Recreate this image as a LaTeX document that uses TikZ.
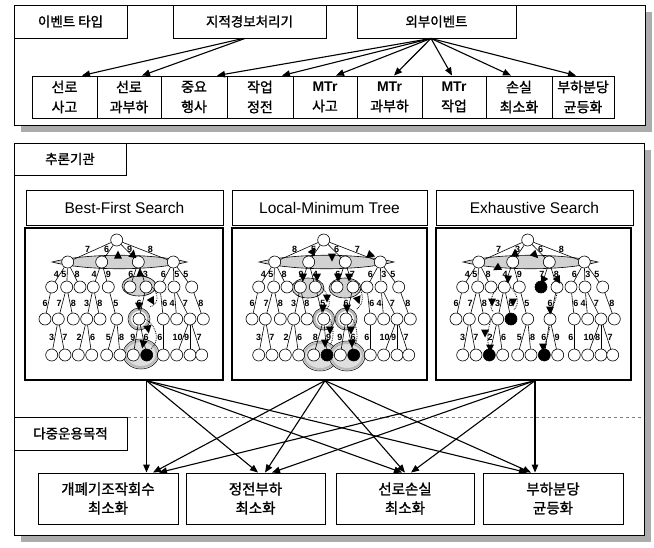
\documentclass[tikz,border=0pt]{standalone}
\usepackage{fontspec}
\setmainfont{Liberation Sans}
\newfontfamily\kr{Noto Sans CJK KR}[FakeBold=1.2]
\usetikzlibrary{arrows.meta}

\tikzset{
  box/.style={draw, line width=0.9pt, fill=white, inner sep=0pt, align=center},
  arr/.style={-{Triangle[length=8pt,width=6.5pt]}, line width=1.1pt},
  tn/.style={circle, draw, fill=white, minimum size=12pt, inner sep=0pt, line width=0.6pt},
  tedge/.style={line width=0.6pt},
  elab/.style={font=\bfseries\fontsize{9}{9}\selectfont, inner sep=0.5pt},
  srch/.style={densely dotted, line width=0.8pt},
  hl/.style={draw, line width=0.6pt, fill=gray!35},
  krhead/.style={font=\kr\fontsize{13.5}{16}\selectfont},
  krev/.style={font=\kr\fontsize{14}{20}\selectfont},
  krgoal/.style={font=\kr\fontsize{14.5}{19}\selectfont},
  ptitle/.style={font=\fontsize{15.5}{18}\selectfont},
}

\newcommand\cbox[6]{\node[box,#6,minimum width={(#4-#2)*1pt},minimum height={(#5-#3)*1pt}] (#1) at ({(#2+#4)/2},{(#3+#5)/2})}
\newcommand\tri[3]{\fill[shift={(#1,#2)},rotate=#3] (4.5,0) -- (-3.5,4) -- (-3.5,-4) -- cycle;}
\newcommand\lens[1]{\draw[hl] (#1+27,262) .. controls (#1+62,253) and (#1+127,253) .. (#1+162,262) .. controls (#1+127,271) and (#1+62,271) .. cycle;}
\newcommand\ring[2]{\draw[gray!55, line width=2.5pt] (#1,#2) circle [radius=9.3pt];\draw[line width=0.5pt] (#1,#2) circle [radius=11pt];}
\newcommand\lowell[2]{\draw[fill=gray!25, line width=0.5pt] (#1,#2) ellipse [x radius=18pt, y radius=15pt];\draw[gray!55, line width=2pt] (#1,#2) ellipse [x radius=16pt, y radius=13pt];}

\def\labB{{"7","6","9","8","4","5","8","4","9","6","3","6","5","5","6","7","8","3","8","5","6","6","4","7","8","3","7","2","6","5","8","9","6","6","10","9","7"}}
\def\labL{{"8","5","6","7","4","5","8","9","4","6","7","6","3","5","6","7","8","3","8","5","6","6","4","7","8","3","7","2","6","8","9","9","6","6","10","9","7"}}
\def\labE{{"7","3","6","8","4","5","8","4","9","7","8","6","3","5","6","7","8","3","8","5","6","6","4","7","8","3","7","2","6","5","8","6","9","6","10","8","7"}}

\newcommand\tree[3]{%
 \node[tn] (#1r) at (#2+91.7,240) {};
 \foreach \n/\x in {1/42.7,2/76.7,3/113.3,4/148.3} {\node[tn] (#1a\n) at (#2+\x,262) {};}
 \foreach \n/\x in {1/26.7,2/41.7,3/55,4/68.3,5/83.3,6/105,7/121,8/135,9/149,10/166.7} {\node[tn] (#1b\n) at (#2+\x,287) {};}
 \foreach \n/\x in {1/20,2/33.3,3/48.3,4/61.7,5/75,6/91.7,7/114,8/138.3,9/151.7,10/165,11/178.3} {\node[tn] (#1c\n) at (#2+\x,319) {};}
 \foreach \n/\x in {1/26.7,2/40,3/53.3,4/66.7,5/81.7,6/95,7/108.3,8/121.7,9/138.3,10/151.7,11/165,12/176.7} {\node[tn] (#1d\n) at (#2+\x,355) {};}
 \foreach \p/\c/\s/\q [count=\i from 0] in {r/a1/south/.62, r/a2/east/.4, r/a3/west/.4, r/a4/south/.62,
   a1/b1/east/.5, a1/b2/east/.5, a1/b3/west/.5, a2/b4/east/.5, a2/b5/west/.5, a3/b6/east/.5, a3/b7/west/.5, a4/b8/east/.5, a4/b9/west/.5, a4/b10/west/.5,
   b1/c1/east/.5, b2/c2/east/.5, b2/c3/west/.5, b4/c4/east/.5, b4/c5/west/.5, b5/c6/west/.5, b7/c7/east/.5, b8/c8/west/.5, b9/c9/east/.5, b9/c10/west/.5, b10/c11/west/.5,
   c2/d1/east/.5, c2/d2/west/.5, c4/d3/east/.5, c4/d4/west/.5, c6/d5/east/.5, c6/d6/west/.5, c7/d7/east/.5, c7/d8/west/.5, c8/d9/east/.5, c10/d10/east/.5, c10/d11/east/.5, c10/d12/west/.5} {
   \pgfmathparse{#3[\i]}\let\lab\pgfmathresult
   \draw[tedge] (#1\p) -- node[elab,anchor=\s,pos=\q] {\lab} (#1\c);
 }
}

\begin{document}
\begin{tikzpicture}[x=1pt,y=-1pt]
\useasboundingbox (0,0) rectangle (654,547);

% ---------- top section
\fill[gray!65] (21,12) rectangle (652,132);
\draw[line width=0.9pt, fill=white] (14,5) rectangle (645,125);
\cbox{et}{14}{5}{127}{38}{krhead} {이벤트 타입};
\cbox{jj}{173}{5}{326}{38}{krhead} {지적경보처리기};
\cbox{ob}{357}{5}{516}{38}{krhead} {외부이벤트};

\cbox{e1}{32}{76}{97}{118}{krev} {선로\\사고};
\cbox{e2}{97}{76}{161}{118}{krev} {선로\\과부하};
\cbox{e3}{161}{76}{227}{118}{krev} {중요\\행사};
\cbox{e4}{227}{76}{293}{118}{krev} {작업\\정전};
\cbox{e5}{293}{76}{357}{118}{krev} {{\normalfont\bfseries MTr}\\사고};
\cbox{e6}{357}{76}{422}{118}{krev} {{\normalfont\bfseries MTr}\\과부하};
\cbox{e7}{422}{76}{486}{118}{krev} {{\normalfont\bfseries MTr}\\작업};
\cbox{e8}{486}{76}{552}{118}{krev} {손실\\최소화};
\cbox{e9}{552}{76}{614}{118}{krev} {부하분당\\균등화};

\draw[arr] ([xshift=-6.5pt]jj.south) -- ([xshift=17.5pt]e1.north);
\draw[arr] ([xshift=-4.5pt]jj.south) -- ([xshift=13pt]e2.north);
\draw[arr] ([xshift=-5.5pt]ob.south) -- ([xshift=23pt]e3.north);
\draw[arr] ([xshift=-5.5pt]ob.south) -- ([xshift=22pt]e4.north);
\draw[arr] ([xshift=-5.5pt]ob.south) -- ([xshift=11pt]e5.north);
\draw[arr] ([xshift=-5.5pt]ob.south) -- ([xshift=4.5pt]e6.north);
\draw[arr] ([xshift=-5.5pt]ob.south) -- ([xshift=-2pt]e7.north);
\draw[arr] ([xshift=-5.5pt]ob.south) -- ([xshift=-8pt]e8.north);
\draw[arr] ([xshift=-5.5pt]ob.south) -- ([xshift=-7pt]e9.north);

% ---------- middle / bottom section
\fill[gray!65] (21,150) rectangle (651,542);
\draw[line width=0.9pt, fill=white] (14,143) rectangle (644,535);
\cbox{inf}{14}{143}{126}{175}{krhead} {추론기관};
\draw[gray, dashed, line width=0.6pt] (14,417) -- (644,417);
\cbox{multi}{14}{417}{127}{450}{krhead} {다중운용목적};

\cbox{t1}{26}{190}{223}{225}{ptitle} {Best-First Search};
\cbox{t2}{232}{190}{427}{225}{ptitle} {Local-Minimum Tree};
\cbox{t3}{436}{190}{633}{225}{ptitle} {Exhaustive Search};
\cbox{p1}{25}{228}{223}{380}{line width=1.3pt} {};
\cbox{p2}{232}{228}{427}{380}{line width=1.3pt} {};
\cbox{p3}{436}{228}{631}{380}{line width=1.3pt} {};

% Best-First panel
\lens{25}
\draw[hl] (139,286) ellipse [x radius=17pt, y radius=10pt];
\ring{139}{319}
\lowell{141}{354}
\tree{B}{25}{\labB}
\fill (Bd8) circle [radius=6pt];
\draw[srch] (Bb7.east) .. controls (160,296) and (158,304) .. (150,307);
\draw[srch] (Bc7.east) .. controls (159,328) and (159,342) .. (151,349);
\tri{118}{255}{90} \tri{133}{254}{80} \tri{140}{273}{95} \tri{152}{301}{-60}
\tri{139}{306}{-90} \tri{148}{329}{-80} \tri{143}{344}{-100}

% Local-Minimum panel
\lens{232}
\draw[hl] (308,288) ellipse [x radius=16pt, y radius=10pt];
\draw[hl] (345,288) ellipse [x radius=16pt, y radius=10pt];
\ring{323.7}{319} \ring{346}{319}
\lowell{320}{356} \lowell{347}{356}
\tree{L}{232}{\labL}
\fill (Ld6) circle [radius=6pt];
\fill (Ld8) circle [radius=6pt];
\draw[srch] (Lb5.east) .. controls (330,296) and (331,305) .. (327,309);
\draw[srch] (Lb7.east) .. controls (364,296) and (363,305) .. (357,309);
\draw[srch] (Lc6.east) .. controls (334,328) and (334,340) .. (330,345);
\draw[srch] (Lc7.east) .. controls (358,328) and (358,340) .. (355,345);
\tri{313}{251}{60} \tri{332}{257}{-90} \tri{371}{255}{-20}
\tri{303}{277}{-90} \tri{317}{277}{-90} \tri{338}{277}{-90} \tri{349}{277}{-90}
\tri{327}{298}{-90} \tri{323}{308}{-90} \tri{347}{308}{-90} \tri{358}{300}{-70}
\tri{330}{330}{-90} \tri{325}{343}{-90} \tri{351}{330}{-90} \tri{352}{343}{-90}

% Exhaustive panel
\lens{436}
\tree{E}{436}{\labE}
\fill (Eb6) circle [radius=6pt];
\fill (Ec5) circle [radius=6pt];
\fill (Ed3) circle [radius=6pt];
\fill (Ed7) circle [radius=6pt];
\draw[srch] (Eb4.west) .. controls (490,296) and (489,306) .. (493,312);
\draw[srch] (Eb4.east) .. controls (519,296) and (519,305) .. (514,310);
\draw[srch] (Ec4.west) .. controls (487,330) and (487,340) .. (489,347);
\draw[srch] (Eb7.south) .. controls (556,300) and (553,306) .. (551,312);
\draw[srch] (Ec7.south) .. controls (549,335) and (546,340) .. (544,347);
\tri{515}{253}{90} \tri{535}{255}{-45} \tri{497}{268}{-150} \tri{508}{279}{-90}
\tri{543}{280}{-120} \tri{558}{280}{-60} \tri{492}{302}{-90} \tri{513}{302}{-90}
\tri{550}{310}{-90} \tri{485}{333}{-90} \tri{490}{348}{-90} \tri{543}{347}{-90}

% ---------- goals
\cbox{g1}{38}{473}{178}{524}{krgoal} {개폐기조작회수\\최소화};
\cbox{g2}{186}{473}{325}{524}{krgoal} {정전부하\\최소화};
\cbox{g3}{336}{473}{474}{524}{krgoal} {선로손실\\최소화};
\cbox{g4}{483}{473}{623}{524}{krgoal} {부하분당\\균등화};

\draw[arr] ([xshift=22.5pt]p1.south) -- ([xshift=38.5pt]g1.north);
\draw[arr] ([xshift=22.5pt]p1.south) -- ([xshift=2.5pt]g2.north);
\draw[arr] ([xshift=22.5pt]p1.south) -- ([xshift=-3pt]g3.north);
\draw[arr] ([xshift=22.5pt]p1.south) -- ([xshift=-26pt]g4.north);
\draw[arr] ([xshift=-4.5pt]p2.south) -- ([xshift=45pt]g1.north);
\draw[arr] ([xshift=-4.5pt]p2.south) -- ([xshift=9.5pt]g2.north);
\draw[arr] ([xshift=-4.5pt]p2.south) -- ([xshift=0pt]g3.north);
\draw[arr] ([xshift=-4.5pt]p2.south) -- ([xshift=-22pt]g4.north);
\draw[arr] ([xshift=1.5pt]p3.south) -- ([xshift=51pt]g1.north);
\draw[arr] ([xshift=1.5pt]p3.south) -- ([xshift=16.5pt]g2.north);
\draw[arr] ([xshift=1.5pt]p3.south) -- ([xshift=6pt]g3.north);
\draw[arr] ([xshift=1.5pt]p3.south) -- ([xshift=-18pt]g4.north);
\end{tikzpicture}
\end{document}
